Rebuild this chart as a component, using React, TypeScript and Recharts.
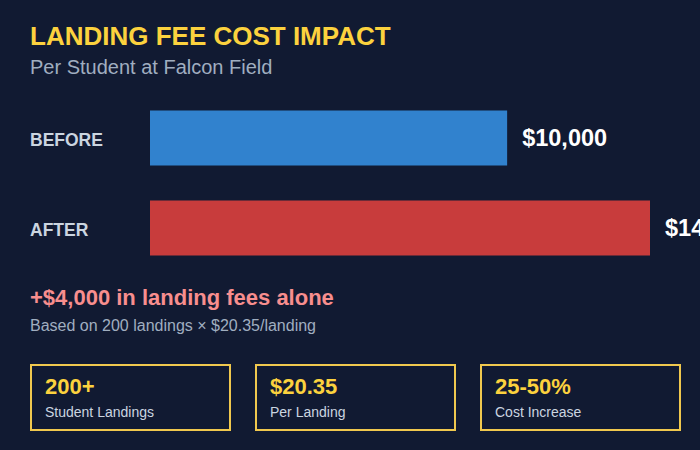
import React from 'react';
import { BarChart, Bar, XAxis, YAxis, Cell, LabelList } from 'recharts';

const categories = ['BEFORE', 'AFTER'];
const costs = [10000, 14000];
const statValues = ['200+', '$20.35', '25-50%'];
const statLabels = ['Student Landings', 'Per Landing', 'Cost Increase'];

const BAR_COLORS = ['#3182ce', '#c83c3c'];
const BG = '#111a32';
const YELLOW = '#fcd23e';
const FONT = '"Liberation Sans", Arial, Helvetica, sans-serif';

const chartData = categories.map((name, i) => ({ name, cost: costs[i] }));

const CategoryTick = (props: any) => {
  const { y, payload } = props;
  return (
    <text x={30} y={y} dy={8} textAnchor="start" fill="#cbd5e0" fontSize={17.5} fontWeight="bold" fontFamily={FONT}>
      {payload.value}
    </text>
  );
};

const App: React.FC = () => {
  return (
    <div style={{ position: 'relative', width: 700, height: 450, background: BG, fontFamily: FONT, overflow: 'hidden' }}>
      <style>{'body{margin:0}'}</style>

      <div style={{ position: 'absolute', left: 30, top: 23, fontSize: 26, lineHeight: '26px', fontWeight: 'bold', color: YELLOW, whiteSpace: 'nowrap' }}>
        LANDING FEE COST IMPACT
      </div>
      <div style={{ position: 'absolute', left: 30, top: 57, fontSize: 20, lineHeight: '20px', color: '#a0aec0', whiteSpace: 'nowrap' }}>
        Per Student at Falcon Field
      </div>

      <div style={{ position: 'absolute', left: 0, top: 80 }}>
        <BarChart
          width={700}
          height={205}
          data={chartData}
          layout="vertical"
          margin={{ top: 12.5, right: 50, bottom: 12.5, left: 0 }}
          barCategoryGap={0}
        >
          <XAxis type="number" domain={[0, 14000]} hide />
          <YAxis type="category" dataKey="name" width={150} axisLine={false} tickLine={false} tick={<CategoryTick />} />
          <Bar dataKey="cost" barSize={55} isAnimationActive={false}>
            {chartData.map((d, i) => (
              <Cell key={d.name} fill={BAR_COLORS[i]} />
            ))}
            <LabelList
              dataKey="cost"
              position="right"
              offset={15}
              fill="#ffffff"
              fontSize={23.5}
              fontWeight="bold"
              fontFamily={FONT}
              formatter={(v: any) => `$${Number(v).toLocaleString('en-US')}`}
            />
          </Bar>
        </BarChart>
      </div>

      <div style={{ position: 'absolute', left: 30, top: 286.5, fontSize: 22, lineHeight: '22px', fontWeight: 'bold', color: '#f88e8e', whiteSpace: 'nowrap' }}>
        +$4,000 in landing fees alone
      </div>
      <div style={{ position: 'absolute', left: 30, top: 317.5, fontSize: 16, lineHeight: '16px', color: '#a0aec0', whiteSpace: 'nowrap' }}>
        Based on 200 landings × $20.35/landing
      </div>

      {statValues.map((v, i) => (
        <div
          key={v}
          style={{
            position: 'absolute',
            left: 30 + i * 225,
            top: 364,
            width: 201,
            height: 67,
            boxSizing: 'border-box',
            border: '2px solid #f0c84e',
          }}
        >
          <div style={{ position: 'absolute', left: 13, top: 10, fontSize: 22, lineHeight: '22px', fontWeight: 'bold', color: YELLOW, whiteSpace: 'nowrap' }}>
            {v}
          </div>
          <div style={{ position: 'absolute', left: 13, top: 39, fontSize: 14, lineHeight: '14px', color: '#cbd5e0', whiteSpace: 'nowrap' }}>
            {statLabels[i]}
          </div>
        </div>
      ))}
    </div>
  );
};

export default App;
